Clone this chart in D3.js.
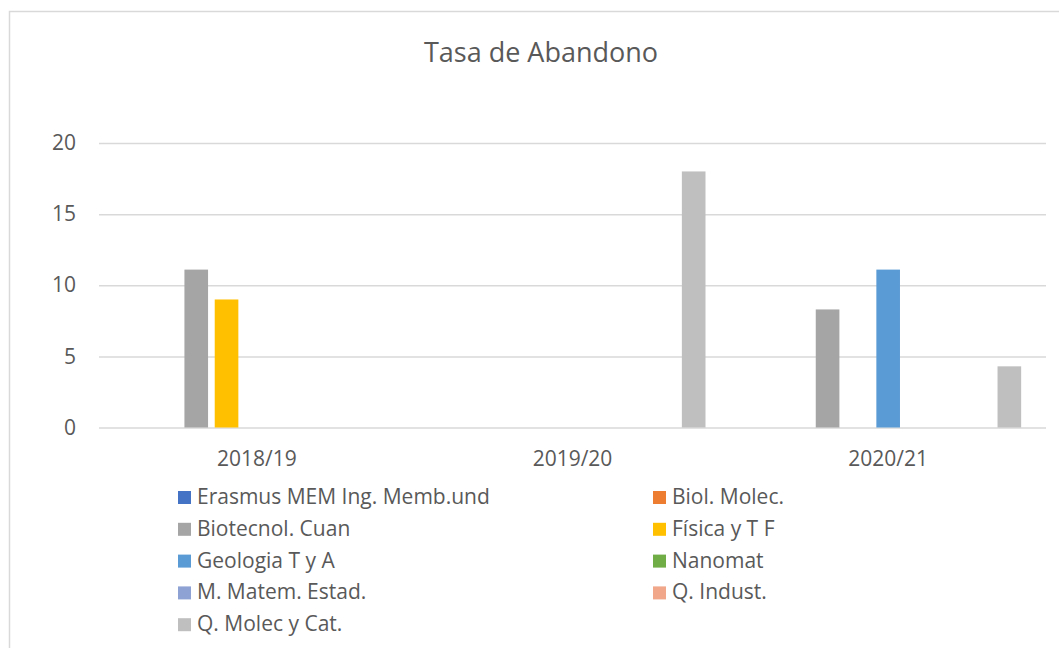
<!DOCTYPE html>
<html>
<head>
<meta charset="utf-8">
<script src="https://cdn.jsdelivr.net/npm/d3@7"></script>
<style>
  body { margin: 0; background: #fff; }
  svg { font-family: "Open Sans", sans-serif; }
</style>
</head>
<body>
<svg width="1059" height="648"></svg>
<script>
// data
var years = ["2018/19", "2019/20", "2020/21"];
var seriesNames = ["Erasmus MEM Ing. Memb.und", "Biol. Molec.", "Biotecnol. Cuan", "Física y T F",
                   "Geologia T y A", "Nanomat", "M. Matem. Estad.", "Q. Indust.", "Q. Molec y Cat."];
var seriesColors = ["#4472C4", "#ED7D31", "#A5A5A5", "#FFC000", "#5B9BD5", "#70AD47", "#8FA2D4", "#F1A88A", "#BFBFBF"];
// one value per year, 0 = no bar
var erasmus   = [0, 0, 0];
var biolMolec = [0, 0, 0];
var biotecnol = [11.1, 0, 8.3];
var fisica    = [9.0, 0, 0];
var geologia  = [0, 0, 11.1];
var nanomat   = [0, 0, 0];
var matem     = [0, 0, 0];
var qIndust   = [0, 0, 0];
var qMolec    = [0, 18.0, 4.3];
var yTicks = [0, 5, 10, 15, 20];

var allSeries = [erasmus, biolMolec, biotecnol, fisica, geologia, nanomat, matem, qIndust, qMolec];

var svg = d3.select("svg");
var plotLeft = 99, plotRight = 1046, plotTop = 143, plotBottom = 427.5;

// chart frame
svg.append("rect")
    .attr("x", 9.5).attr("y", 11.5)
    .attr("width", 1060).attr("height", 650)
    .attr("fill", "#fff")
    .attr("stroke", "#d9d9d9").attr("stroke-width", 1.5);

svg.append("text")
    .attr("x", 541).attr("y", 62)
    .attr("text-anchor", "middle")
    .attr("font-size", 27)
    .attr("fill", "#595959")
    .text("Tasa de Abandono");

var x0 = d3.scaleBand().domain(years).range([plotLeft, plotRight]).padding(0);
var x1 = d3.scaleBand().domain(d3.range(seriesNames.length))
    .range([0, x0.bandwidth()])
    .paddingInner(0.22).paddingOuter(0.82);
var y = d3.scaleLinear().domain([0, 20]).range([plotBottom, plotTop]);

// gridlines + y labels
var yAxis = svg.append("g")
    .attr("transform", "translate(" + plotLeft + ",0)")
    .call(d3.axisLeft(y).tickValues(yTicks).tickSize(-(plotRight - plotLeft)).tickPadding(23));
yAxis.select(".domain").remove();
yAxis.selectAll(".tick line").attr("stroke", "#d9d9d9").attr("stroke-width", 1.5);
yAxis.selectAll(".tick text")
    .attr("font-size", 21).attr("fill", "#595959")
    .attr("font-family", "Open Sans, sans-serif");

// bars
var groups = svg.append("g").selectAll("g")
    .data(years)
    .enter().append("g")
    .attr("transform", function(d) { return "translate(" + x0(d) + ",0)"; });

groups.selectAll("rect")
    .data(function(d, i) {
        return allSeries.map(function(s, k) { return { k: k, v: s[i] }; }).filter(function(e) { return e.v > 0; });
    })
    .enter().append("rect")
    .attr("x", function(d) { return x1(d.k); })
    .attr("width", x1.bandwidth())
    .attr("y", function(d) { return y(d.v); })
    .attr("height", function(d) { return y(0) - y(d.v); })
    .attr("fill", function(d) { return seriesColors[d.k]; });

// category axis
var xAxis = svg.append("g")
    .attr("transform", "translate(0," + plotBottom + ")")
    .call(d3.axisBottom(x0).tickSize(0).tickPadding(24));
xAxis.select(".domain").remove();
xAxis.selectAll(".tick text")
    .attr("font-size", 21).attr("fill", "#595959")
    .attr("font-family", "Open Sans, sans-serif");

// legend, two columns
var legend = svg.append("g").selectAll("g")
    .data(seriesNames)
    .enter().append("g")
    .attr("transform", function(d, i) {
        var col = i % 2, row = Math.floor(i / 2);
        return "translate(" + (col ? 653 : 178) + "," + (491 + row * 31.8) + ")";
    });
legend.append("rect")
    .attr("width", 13).attr("height", 13)
    .attr("fill", function(d, i) { return seriesColors[i]; });
legend.append("text")
    .attr("x", 19).attr("y", 13)
    .attr("font-size", 21).attr("fill", "#595959")
    .text(function(d) { return d; });
</script>
</body>
</html>
